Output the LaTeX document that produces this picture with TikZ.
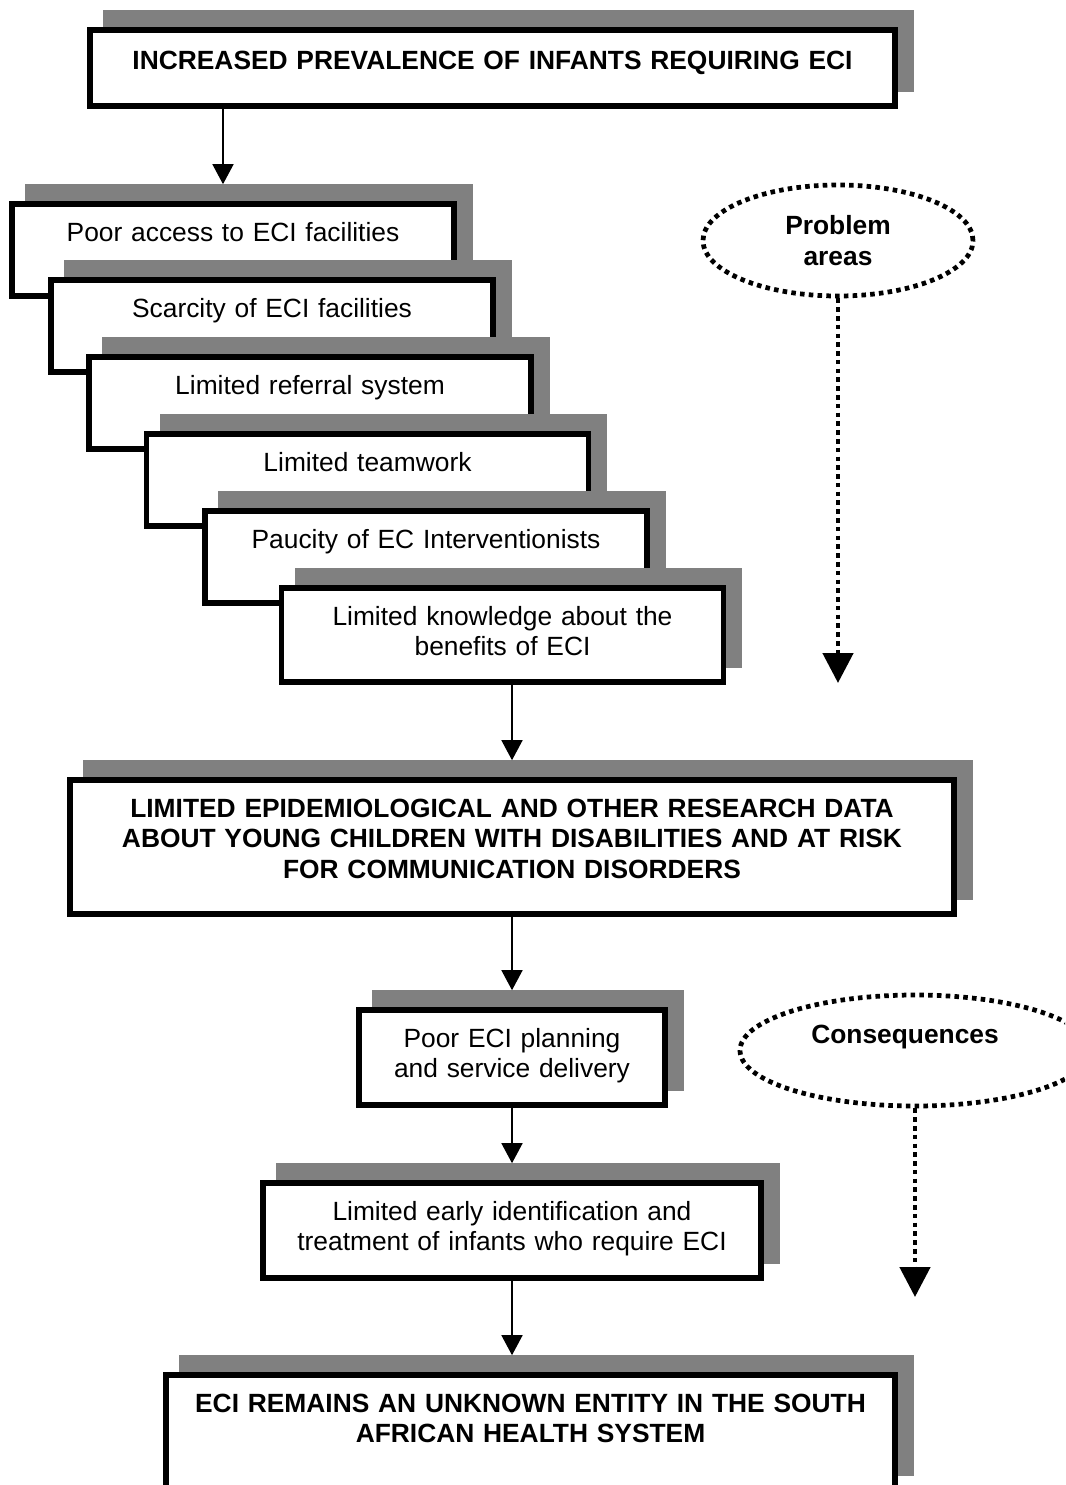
\documentclass[tikz,border=0pt]{standalone}
\usepackage{fontspec}
\setmainfont{Liberation Sans}
\usetikzlibrary{arrows.meta,positioning,shapes.geometric,shadows}

\begin{document}
\begin{tikzpicture}
[font=\fontsize{15}{17.3}\selectfont,
% STYLES
shadowed/.style={rectangle, draw, line width=3.2pt, fill=white, inner xsep=0pt, inner ysep=0pt, align=center, text height=0.75cm, drop shadow={shadow xshift=0.32cm, shadow yshift=0.34cm, fill=gray, draw=gray, opacity=1}},
headline/.style={shadowed, font=\fontsize{15}{17.3}\selectfont\bfseries},
stair/.style={shadowed, text width=8.84cm, text depth=1.09cm},
flow/.style={-{Triangle[width=0.42cm,length=0.4cm]}, line width=0.85pt, shorten >=0.34cm},
areas/.style={ellipse, draw, line width=2.7pt, dash pattern=on 2.6pt off 2.4pt, inner sep=0pt, minimum height=2.22cm, font=\fontsize{15}{17.3}\selectfont\bfseries},
pointer/.style={-{Triangle[width=0.6cm,length=0.6cm]}, line width=2.7pt, dash pattern=on 2.6pt off 2.4pt}]

\useasboundingbox (0,0) rectangle (21.3,-29.7);
\clip (0,0) rectangle (21.3,-29.7);

% Starting point
\node [headline, text width=16.1cm, text height=0.79cm, text depth=0.73cm] (increase) at (9.85,-1.36) {INCREASED PREVALENCE OF INFANTS REQUIRING ECI};

% Problem areas, stacked
\node [stair] (access) at (4.66,-5.0) {Poor access to ECI facilities};
\node [stair] (scarcity) at (5.44,-6.52) {Scarcity of ECI facilities};
\node [stair] (referral) at (6.2,-8.06) {Limited referral system};
\node [stair] (teamwork) at (7.35,-9.6) {Limited teamwork};
\node [stair] (paucity) at (8.52,-11.14) {Paucity of EC Interventionists};
\node [stair, text depth=1.13cm] (knowledge) at (10.05,-12.7) {Limited knowledge about the\\ benefits of ECI};

% Consequences
\node [headline, text width=17.68cm, text depth=1.93cm] (research) at (10.24,-16.94) {LIMITED EPIDEMIOLOGICAL AND OTHER RESEARCH DATA\\ ABOUT YOUNG CHILDREN WITH DISABILITIES AND AT RISK\\ FOR COMMUNICATION DISORDERS};
\node [shadowed, text width=6.12cm, text depth=1.15cm] (planning) at (10.24,-21.15) {Poor ECI planning\\ and service delivery};
\node [shadowed, text width=9.96cm, text depth=1.15cm] (identification) at (10.24,-24.61) {Limited early identification and\\ treatment of infants who require ECI};
\node [headline, text width=14.58cm, text depth=1.55cm] (unknown) at (10.61,-28.65) {ECI REMAINS AN UNKNOWN ENTITY IN THE SOUTH\\ AFRICAN HEALTH SYSTEM};

% Side labels
\node [areas, align=center, minimum width=5.4cm] (problem) at (16.76,-4.81) {Problem\\ areas};
\node [areas, minimum width=7cm, text height=0.3cm, text depth=0.6cm] (consequence) at (18.3,-21.01) {Consequences\kern0.4cm};
\coordinate (problem-end) at (16.76,-13.66);
\coordinate (consequence-end) at (18.3,-25.94);

%%%%%%%%%%%%%%%%

\draw[flow] ([xshift=-0.2cm]access.north |- increase.south) -- ([xshift=-0.2cm]access.north);
\draw[flow] (knowledge.south -| research.north) -- (research.north);
\path[flow]
(research) edge (planning)
(planning) edge (identification);
\draw[flow] (identification.south) -- (identification.south |- unknown.north);

\draw[pointer] (problem.south) -- (problem-end);
\draw[pointer] (consequence.south) -- (consequence-end);

\end{tikzpicture}
\end{document}
